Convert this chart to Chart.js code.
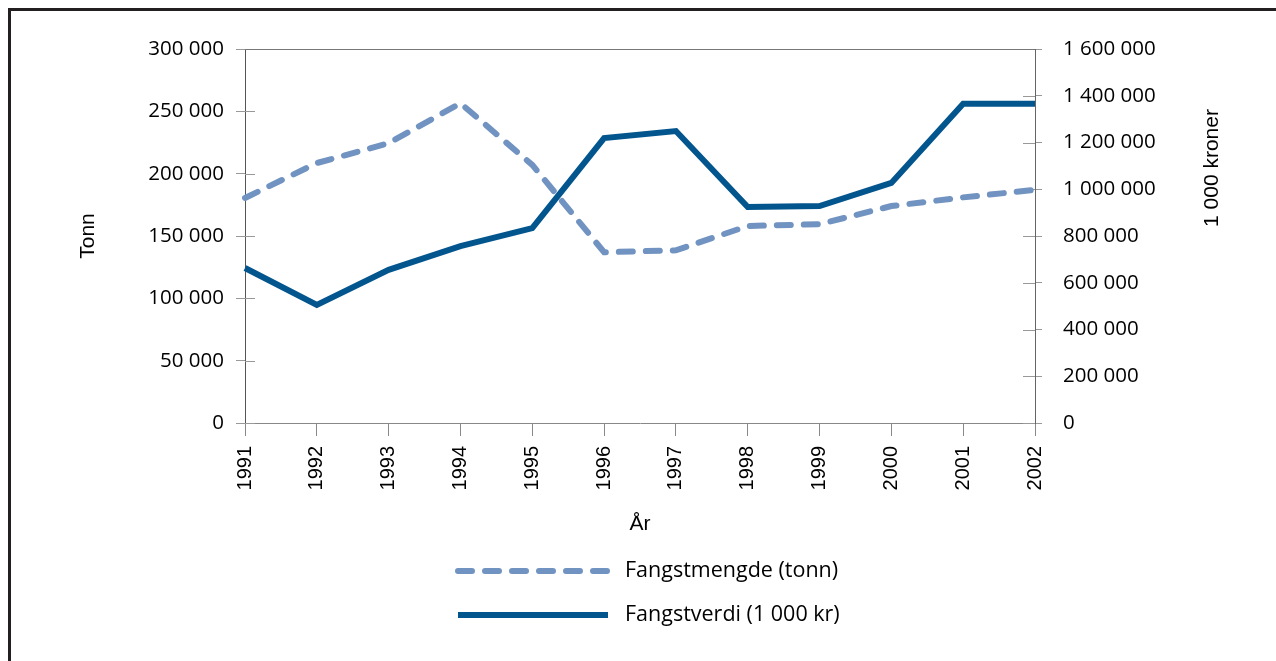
<!DOCTYPE html>
<html>
<head>
<meta charset="utf-8">
<script src="https://cdn.jsdelivr.net/npm/chart.js@4"></script>
<style>
  html, body { margin: 0; padding: 0; background: #fff; overflow: hidden; }
  .frame { position: absolute; left: 8px; top: 8px; width: 1400px; height: 800px; border-left: 3px solid #231f20; border-top: 3px solid #231f20; }
  #wrap { position: absolute; left: 0; top: 0; width: 1276px; height: 661px; }
</style>
</head>
<body>
<div class="frame"></div>
<div id="wrap"><canvas id="myChart" width="1276" height="661"></canvas></div>
<script>
const years = ['1991','1992','1993','1994','1995','1996','1997','1998','1999','2000','2001','2002'];
const mengde = [180500, 208500, 224500, 256500, 207000, 137000, 138500, 158000, 159500, 174000, 181000, 187000];
const verdi = [663000, 505000, 655000, 757000, 834000, 1219000, 1249000, 924000, 928000, 1027000, 1366000, 1366000];
const mengdeLabel = 'Fangstmengde (tonn)';
const verdiLabel = 'Fangstverdi (1 000 kr)';

const lightBlue = '#7193c1';
const darkBlue = '#03558e';

function fmt(v){
  return String(v).replace(/\B(?=(\d{3})+(?!\d))/g, ' ');
}

// inner halves of the y ticks + top frame line
const innerTicks = {
  id: 'innerTicks',
  beforeDatasetsDraw(chart){
    const ctx = chart.ctx, a = chart.chartArea;
    ctx.save();
    ctx.lineWidth = 1;
    ctx.strokeStyle = '#999';
    chart.scales.y.ticks.forEach(t => {
      let py = Math.round(chart.scales.y.getPixelForValue(t.value)) + 0.5;
      ctx.beginPath(); ctx.moveTo(a.left, py); ctx.lineTo(a.left + 10, py); ctx.stroke();
    });
    chart.scales.y1.ticks.forEach(t => {
      let py = Math.round(chart.scales.y1.getPixelForValue(t.value)) + 0.5;
      ctx.beginPath(); ctx.moveTo(a.right - 12, py); ctx.lineTo(a.right, py); ctx.stroke();
    });
    ctx.strokeStyle = '#777';
    ctx.beginPath(); ctx.moveTo(a.left, a.top + 0.5); ctx.lineTo(a.right, a.top + 0.5); ctx.stroke();
    ctx.restore();
  }
};

// right axis title (reads bottom to top) and stacked legend
const extras = {
  id: 'extras',
  afterDraw(chart){
    const ctx = chart.ctx;
    ctx.save();
    ctx.fillStyle = '#000';
    ctx.font = '21px "Liberation Sans", Arial, sans-serif';
    ctx.textAlign = 'center';
    ctx.textBaseline = 'middle';
    ctx.translate(1212, 168);
    ctx.rotate(-Math.PI / 2);
    ctx.fillText('1 000 kroner', 0, 0);
    ctx.restore();

    const rows = [571, 615];
    chart.data.datasets.forEach((ds, i) => {
      const y = rows[i];
      ctx.save();
      ctx.strokeStyle = ds.borderColor;
      ctx.lineWidth = ds.borderWidth;
      ctx.lineCap = ds.borderCapStyle || 'butt';
      ctx.setLineDash(ds.borderDash || []);
      ctx.beginPath(); ctx.moveTo(458, y); ctx.lineTo(608, y); ctx.stroke();
      ctx.setLineDash([]);
      ctx.fillStyle = '#000';
      ctx.font = '21.5px "Open Sans", sans-serif';
      ctx.textAlign = 'left';
      ctx.textBaseline = 'middle';
      ctx.fillText(ds.label, 625, y);
      ctx.restore();
    });
  }
};

const data = {
  labels: years,
  datasets: [
    {
      label: mengdeLabel,
      data: mengde,
      yAxisID: 'y',
      borderColor: lightBlue,
      backgroundColor: lightBlue,
      borderWidth: 6,
      borderDash: [14, 13],
      borderCapStyle: 'round',
      pointRadius: 0,
      tension: 0
    },
    {
      label: verdiLabel,
      data: verdi,
      yAxisID: 'y1',
      borderColor: darkBlue,
      backgroundColor: darkBlue,
      borderWidth: 6,
      pointRadius: 0,
      tension: 0
    }
  ]
};

const config = {
  type: 'line',
  data: data,
  plugins: [innerTicks, extras],
  options: {
    responsive: false,
    animation: false,
    layout: { padding: { top: 49, left: 0, right: 0, bottom: 0 } },
    plugins: {
      legend: { display: false },
      tooltip: { enabled: false }
    },
    scales: {
      x: {
        offset: false,
        grid: { drawOnChartArea: false, tickLength: 13, color: '#888' },
        border: { color: '#888' },
        ticks: {
          minRotation: 90, maxRotation: 90, padding: 10, color: '#000',
          font: { family: '"Liberation Sans", Arial, sans-serif', size: 20 }
        },
        title: {
          display: true, text: 'År', color: '#000',
          font: { family: '"Liberation Sans", Arial, sans-serif', size: 21 },
          padding: { top: 0, bottom: 124 }
        },
        afterFit(s){ s.height = 238; }
      },
      y: {
        position: 'left',
        min: 0, max: 300000,
        grid: { drawOnChartArea: false, tickLength: 9, color: '#999' },
        border: { color: '#555' },
        ticks: {
          stepSize: 50000, padding: 12, color: '#000',
          font: { family: '"Open Sans", sans-serif', size: 20.5 },
          callback: v => fmt(v)
        },
        title: {
          display: true, text: 'Tonn', color: '#000',
          font: { family: '"Liberation Sans", Arial, sans-serif', size: 21 },
          padding: { top: 76, bottom: 0 }
        },
        afterFit(s){ s.width = 245; }
      },
      y1: {
        position: 'right',
        min: 0, max: 1600000,
        grid: { drawOnChartArea: false, tickLength: 7, color: '#999' },
        border: { color: '#666' },
        ticks: {
          stepSize: 200000, padding: 21, color: '#000',
          font: { family: '"Open Sans", sans-serif', size: 20.5 },
          callback: v => fmt(v)
        },
        afterFit(s){ s.width = 241; }
      }
    }
  }
};

new Chart(document.getElementById('myChart'), config);
</script>
</body>
</html>
